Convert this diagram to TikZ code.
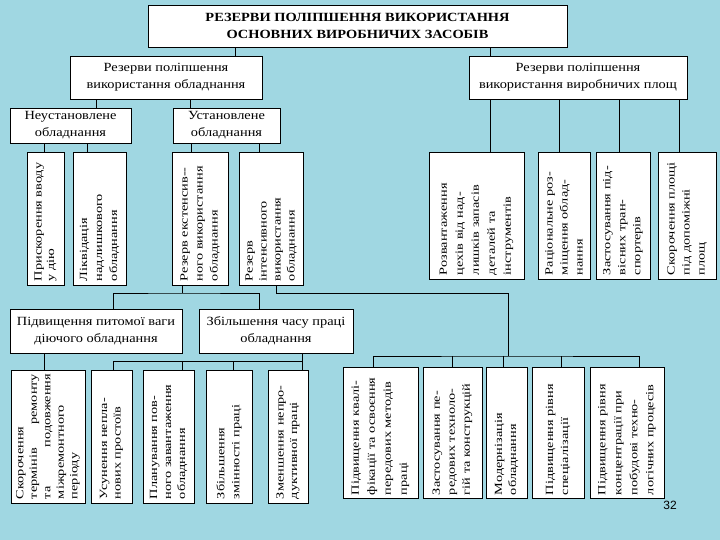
\documentclass[tikz,border=0pt]{standalone}
\usepackage{fontspec}
\setmainfont{Liberation Serif}
\newfontfamily\hfnt[FakeStretch=1.15]{Liberation Serif}
\newfontfamily\vfnt[FakeStretch=1.3]{Liberation Serif}
\newfontfamily\numfnt{Liberation Sans}
\usepackage{graphicx}
\definecolor{bgblue}{RGB}{160,215,226}
\newcommand{\vlab}[3][15]{\rotatebox{90}{\parbox{#2}{\vfnt\fontsize{11}{#1}\selectfont\raggedright #3}}}
\begin{document}
\begin{tikzpicture}[x=1pt,y=-1pt,
  box/.style={draw, fill=white, line width=0.7pt, inner sep=0pt, outer sep=0pt},
  hbox/.style={box, font=\hfnt\fontsize{12.5}{17}\selectfont, align=center},
  conn/.style={line width=0.7pt}]
\fill[bgblue] (0,0) rectangle (720,540);
\useasboundingbox (0,0) rectangle (720,540);

% level 1-3
\node[hbox, minimum width=419pt, minimum height=42pt] (title) at (357.5,26) {\bfseries РЕЗЕРВИ ПОЛІПШЕННЯ ВИКОРИСТАННЯ\\\bfseries ОСНОВНИХ ВИРОБНИЧИХ ЗАСОБІВ};
\node[hbox, minimum width=192pt, minimum height=43pt] (La) at (166,77.5) {Резерви поліпшення\\використання обладнання};
\node[hbox, minimum width=218pt, minimum height=43pt] (Lb) at (578,77.5) {Резерви поліпшення\\використання виробничих площ};
\node[hbox, minimum width=121pt, minimum height=35pt] (neu) at (70.5,125.5) {Неустановлене\\обладнання};
\node[hbox, minimum width=107pt, minimum height=35pt] (ust) at (226.5,125.5) {Установлене\\обладнання};

% vertical boxes, upper row
\node[box, minimum width=37pt, minimum height=133pt] (pr) at (45.5,218.5) {\vlab[12.5]{125pt}{Прискорення вводу\\у дію}};
\node[box, minimum width=53pt, minimum height=133pt] (lq) at (99.5,218.5) {\vlab{125pt}{Ліквідація\\надлишкового\\обладнання}};
\node[box, minimum width=56pt, minimum height=133pt] (ext) at (200,218.5) {\vlab{125pt}{Резерв екстенсив--\\ного використання\\обладнання}};
\node[box, minimum width=64pt, minimum height=133pt] (int) at (271,218.5) {\vlab[14]{125pt}{Резерв\\інтенсивного\\використання\\обладнання}};

\node[box, minimum width=95pt, minimum height=127pt] (r1) at (476.5,215.5) {\vlab[16]{119pt}{Розвантаження\\цехів від над-\\лишків запасів\\деталей та\\інструментів}};
\node[box, minimum width=52pt, minimum height=127pt] (r2) at (564,215.5) {\vlab{119pt}{Раціональне роз-\\міщення облад-\\нання}};
\node[box, minimum width=54pt, minimum height=127pt] (r3) at (623,215.5) {\vlab{119pt}{Застосування під-\\вісних тран-\\спортерів}};
\node[box, minimum width=58pt, minimum height=127pt] (r4) at (687,215.5) {\vlab{119pt}{Скорочення площі\\під допоміжні\\площ}};

% level 4
\node[hbox, minimum width=172pt, minimum height=44pt] (pit) at (96,331) {Підвищення питомої ваги\\діючого обладнання};
\node[hbox, minimum width=154pt, minimum height=44pt] (zb) at (276,331) {Збільшення часу праці\\обладнання};

% bottom row, left
\node[box, minimum width=74pt, minimum height=133pt] (sk) at (48,436.5) {\vlab[13.5]{125pt}{Скорочення\\термінів\hfill ремонту\\та\hfill подовження\\міжремонтного\\періоду}};
\node[box, minimum width=41pt, minimum height=133pt] (us) at (111.5,436.5) {\vlab[13.5]{125pt}{Усунення непла-\\нових простоїв}};
\node[box, minimum width=51pt, minimum height=133pt] (pl) at (168.5,436.5) {\vlab[14]{125pt}{Планування пов-\\ного завантаження\\обладнання}};
\node[box, minimum width=46pt, minimum height=133pt] (zmin) at (229,436.5) {\vlab{125pt}{Збільшення\\змінності праці}};
\node[box, minimum width=40pt, minimum height=133pt] (zm) at (288,436.5) {\vlab[13.5]{125pt}{Зменшення непро-\\дуктивної праці}};

% bottom row, right
\node[box, minimum width=75pt, minimum height=131pt] (q1) at (380.5,432.5) {\vlab[16]{125pt}{Підвищення квалі-\\фікації та освоєння\\передових методів\\праці}};
\node[box, minimum width=59pt, minimum height=131pt] (q2) at (452.5,432.5) {\vlab{125pt}{Застосування пе-\\редових техноло-\\гій та конструкцій}};
\node[box, minimum width=41pt, minimum height=131pt] (q3) at (506.5,432.5) {\vlab[14]{125pt}{Модернізація\\обладнання}};
\node[box, minimum width=52pt, minimum height=131pt] (q4) at (558,432.5) {\vlab{125pt}{Підвищення рівня\\спеціалізації}};
\node[box, minimum width=74pt, minimum height=131pt] (q5) at (627,432.5) {\vlab[16]{125pt}{Підвищення рівня\\концентрації при\\побудові техно-\\логічних процесів}};

\node[font=\numfnt\fontsize{12}{14}\selectfont, inner sep=0pt] (pg) at (670,505) {32};

% junctions
\coordinate (j1) at (182,293);
\coordinate (j2) at (508,293);
\coordinate (j3) at (508,356);
\coordinate (j4) at (302,361);

% connectors
\draw[conn] ([xshift=69pt]La.north) -- ([xshift=69pt]La.north |- title.south);
\draw[conn] ([xshift=-88pt]Lb.north) -- ([xshift=-88pt]Lb.north |- title.south);
\draw[conn] ([xshift=25.5pt]neu.north) -- ([xshift=25.5pt]neu.north |- La.south);
\draw[conn] ([xshift=-36.5pt]ust.north) -- ([xshift=-36.5pt]ust.north |- La.south);
\draw[conn] ([xshift=-1.5pt]pr.north) -- ([xshift=-1.5pt]pr.north |- neu.south);
\draw[conn] ([xshift=-12.5pt]lq.north) -- ([xshift=-12.5pt]lq.north |- neu.south);
\draw[conn] ([xshift=-9pt]ext.north) -- ([xshift=-9pt]ext.north |- ust.south);
\draw[conn] ([xshift=-12pt]int.north) -- ([xshift=-12pt]int.north |- ust.south);
\draw[conn] ([xshift=13.5pt]r1.north) -- ([xshift=13.5pt]r1.north |- Lb.south);
\draw[conn] ([xshift=-5pt]r2.north) -- ([xshift=-5pt]r2.north |- Lb.south);
\draw[conn] ([xshift=-4pt]r3.north) -- ([xshift=-4pt]r3.north |- Lb.south);
\draw[conn] ([xshift=-8pt]r4.north) -- ([xshift=-8pt]r4.north |- Lb.south);

\draw[conn] ([xshift=-18pt]ext.south) -- (j1);
\draw[conn] ([xshift=17pt]pit.north) |- (j1) -| ([xshift=-17pt]zb.north);

\draw[conn] ([xshift=5pt]int.south) |- (j2) -- (j3);
\draw[conn] ([xshift=-7.5pt]q1.north) |- (j3) -| ([xshift=12pt]q5.north);
\draw[conn] (q2.north) -- (q2.north |- j3);
\draw[conn] ([xshift=-3.5pt]q3.north) -- ([xshift=-3.5pt]q3.north |- j3);
\draw[conn] ([xshift=3pt]q4.north) -- ([xshift=3pt]q4.north |- j3);

\draw[conn] ([xshift=-4pt]sk.north) -- ([xshift=-4pt]sk.north |- pit.south);
\draw[conn] ([xshift=26pt]zb.south) -- (j4);
\draw[conn] ([xshift=1.5pt]us.north) |- (j4) -- ([xshift=14pt]zm.north);
\draw[conn] ([xshift=13.5pt]pl.north) -- ([xshift=13.5pt]pl.north |- j4);
\draw[conn] ([xshift=4pt]zmin.north) -- ([xshift=4pt]zmin.north |- j4);
\end{tikzpicture}
\end{document}
